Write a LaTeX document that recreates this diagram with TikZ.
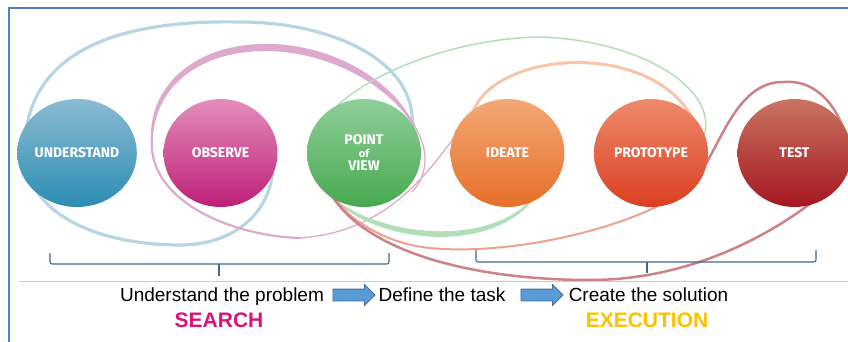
\documentclass[tikz,border=0pt]{standalone}
\usepackage{fontspec}
\setmainfont{Liberation Sans}
\newfontfamily\phasefont{Fira Sans}
\usetikzlibrary{shapes.geometric,shapes.arrows}

\definecolor{frameblue}{RGB}{79,129,189}
\definecolor{braceblue}{RGB}{65,105,140}
\definecolor{arrowblue}{RGB}{91,155,213}
\definecolor{arrowedge}{RGB}{65,113,156}
\definecolor{searchpink}{RGB}{218,18,122}
\definecolor{execyellow}{RGB}{255,192,0}
% swirl colours
\definecolor{blueswirl}{RGB}{183,214,228}
\definecolor{pinkswirl}{RGB}{221,170,205}
\definecolor{greenswirl}{RGB}{178,222,186}
\definecolor{peachswirl}{RGB}{247,197,170}
\definecolor{salmonswirl}{RGB}{238,160,145}
\definecolor{roseswirl}{RGB}{204,130,135}

\begin{document}
\begin{tikzpicture}[x=1pt,y=-1pt,
  phase/.style={ellipse,minimum width=114pt,minimum height=108pt,inner sep=0pt,
                text=white,align=center,font=\phasefont\bfseries\fontsize{14}{11}\selectfont},
  swirl/.style={line cap=round,line width=#1},
  brace/.style={draw=braceblue,line width=1.1pt,rounded corners=2pt},
  blockarr/.style={single arrow,draw=arrowedge,line width=0.8pt,fill=arrowblue,
                   minimum height=42pt,inner xsep=0pt,inner ysep=5.5pt,single arrow head extend=4.5pt},
  steptext/.style={anchor=base,font=\fontsize{19}{19}\selectfont},
  phasetag/.style={anchor=base,font=\bfseries\fontsize{21}{21}\selectfont}]

  \useasboundingbox (0,0) rectangle (848,342);

  % frame
  \draw[frameblue,line width=1.8pt] (9,342) -- (9,8) -- (848,8);

  % swirls behind the phases
  \draw[swirl=3.2pt,blueswirl] (412,128) .. controls (418,60) and (330,22) .. (240,22)
    .. controls (140,20) and (40,40) .. (26,130)
    .. controls (18,155) and (25,178) .. (36,190)
    .. controls (60,228) and (120,245) .. (180,245)
    .. controls (240,245) and (280,205) .. (272,150);

  \draw[swirl=1.3pt,pinkswirl] (458,132) .. controls (420,185) and (380,232) .. (300,238);
  \draw[swirl=2.2pt,pinkswirl] (300,238) .. controls (235,236) and (158,205) .. (152,150)
    .. controls (148,90) and (195,50) .. (265,50)
    .. controls (330,50) and (390,85) .. (414,125);
  \fill[pinkswirl] (152,150) .. controls (148,90) and (195,50) .. (265,50)
    .. controls (330,50) and (390,85) .. (414,125)
    .. controls (394,80) and (330,43) .. (265,44)
    .. controls (192,44) and (143,90) .. (152,150) -- cycle;
  \draw[swirl=1.3pt,pinkswirl] (414,125) .. controls (430,150) and (428,175) .. (412,192);

  \draw[swirl=1.5pt,greenswirl] (702,142) .. controls (725,90) and (640,40) .. (540,37)
    .. controls (460,38) and (360,72) .. (322,122)
    .. controls (305,150) and (315,180) .. (330,196)
    .. controls (380,240) and (500,250) .. (540,190);
  \fill[greenswirl] (330,196) .. controls (380,240) and (500,250) .. (540,190)
    .. controls (502,256) and (378,247) .. (330,196) -- cycle;

  \draw[swirl=3pt,peachswirl] (470,128) .. controls (470,50) and (660,32) .. (697,128);
  \draw[swirl=2pt,salmonswirl] (697,128) .. controls (712,160) and (690,195) .. (660,205)
    .. controls (600,235) and (500,255) .. (430,248)
    .. controls (380,243) and (345,215) .. (335,198) -- (345,185);

  \draw[swirl=2.5pt,roseswirl] (695,180) .. controls (720,150) and (735,80) .. (785,82)
    .. controls (812,80) and (832,100) .. (842,125)
    .. controls (852,150) and (845,185) .. (815,200)
    .. controls (770,235) and (690,280) .. (590,280)
    .. controls (480,280) and (370,255) .. (332,196) -- (345,180);

  % the six phases
  \node[phase,top color={rgb,255:red,139;green,187;blue,211},bottom color={rgb,255:red,44;green,141;blue,178}]
    (understand) at (77,153) {UNDERSTAND};
  \node[phase,top color={rgb,255:red,227;green,141;blue,187},bottom color={rgb,255:red,190;green,31;blue,120}]
    (observe) at (220.5,153) {OBSERVE};
  \node[phase,top color={rgb,255:red,144;green,207;blue,154},bottom color={rgb,255:red,71;green,169;blue,79}]
    (pov) at (364,153) {POINT\\[1.5pt]{\fontsize{11}{11}\selectfont of}\\[2.5pt]VIEW};
  \node[phase,top color={rgb,255:red,243;green,168;blue,118},bottom color={rgb,255:red,230;green,111;blue,40}]
    (ideate) at (507.5,153) {IDEATE};
  \node[phase,top color={rgb,255:red,239;green,138;blue,108},bottom color={rgb,255:red,218;green,63;blue,32}]
    (prototype) at (651,153) {PROTOTYPE};
  \node[phase,top color={rgb,255:red,201;green,116;blue,99},bottom color={rgb,255:red,165;green,22;blue,31}]
    (test) at (794.5,153) {TEST};

  % braces
  \draw[brace] (50,253) -- (50,264) -- (389,264) -- (389,253);
  \draw[brace] (219,264) -- (219,276);
  \draw[brace] (476,250) -- (476,262) -- (816,262) -- (816,250);
  \draw[brace] (647,262) -- (647,273);

  \draw[gray!40,line width=0.8pt] (19,281.5) -- (848,281.5);

  % steps
  \node[steptext] (problem) at (222,301) {Understand the problem};
  \node[blockarr] (arrowA) at (351,295) {};
  \node[steptext] (task) at (442,301) {Define the task};
  \node[blockarr] (arrowB) at (539,295) {};
  \node[steptext] (solution) at (648.5,301) {Create the solution};
  \node[phasetag,text=searchpink] (search) at (219,327) {SEARCH};
  \node[phasetag,text=execyellow] (execution) at (647,327) {EXECUTION};

\end{tikzpicture}
\end{document}
